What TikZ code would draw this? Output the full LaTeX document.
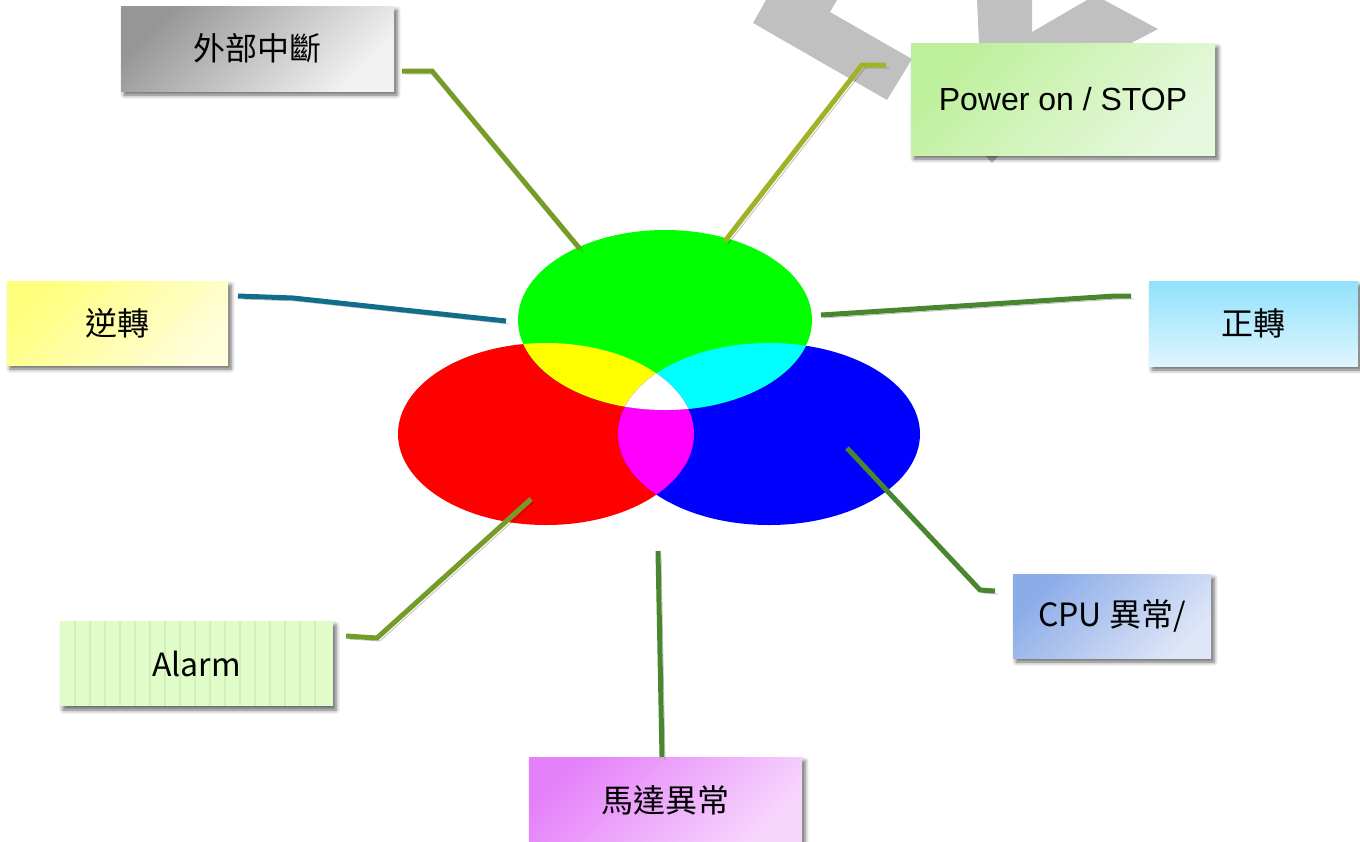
\documentclass[tikz,border=0pt]{standalone}
\usepackage{fontspec}
\newfontfamily\cjk{Noto Sans CJK TC}
\newfontfamily\arial{Liberation Sans}
\usetikzlibrary{shapes.geometric,shadows.blur,positioning}

\definecolor{extTL}{RGB}{150,150,150}
\definecolor{extBR}{RGB}{242,242,242}
\definecolor{pwrTL}{RGB}{190,240,155}
\definecolor{pwrBR}{RGB}{230,248,222}
\definecolor{revTL}{RGB}{255,255,125}
\definecolor{revBR}{RGB}{255,253,218}
\definecolor{fwdT}{RGB}{145,225,251}
\definecolor{fwdB}{RGB}{222,245,254}
\definecolor{cpuTL}{RGB}{140,172,232}
\definecolor{cpuBR}{RGB}{222,230,247}
\definecolor{motTL}{RGB}{228,128,249}
\definecolor{motBR}{RGB}{247,214,252}
\definecolor{almFill}{RGB}{224,252,200}
\definecolor{almStripe}{RGB}{210,240,186}
\definecolor{arrowgray}{RGB}{192,192,192}
\definecolor{oliveA}{RGB}{118,156,40}
\definecolor{oliveB}{RGB}{162,178,40}
\definecolor{tealA}{RGB}{16,110,140}
\definecolor{greenA}{RGB}{72,135,48}
\definecolor{spotR}{RGB}{255,0,0}
\definecolor{spotG}{RGB}{0,255,0}
\definecolor{spotB}{RGB}{0,0,255}
\definecolor{spotY}{RGB}{255,255,0}
\definecolor{spotC}{RGB}{0,255,255}
\definecolor{spotM}{RGB}{255,0,255}

\begin{document}
\begin{tikzpicture}[x=0.5pt,y=-0.5pt,
  sticky/.style={inner sep=0pt, align=center, font=\cjk\fontsize{16}{19}\selectfont,
    blur shadow={shadow xshift=1.5pt, shadow yshift=-2pt, shadow blur radius=2pt, shadow opacity=60}},
  wire/.style={line width=2.5pt,
    preaction={draw=black, opacity=.25, transform canvas={shift={(1.5pt,-1.5pt)}}}}
]
\useasboundingbox (0,0) rectangle (1360,841);
\clip (0,0) rectangle (1360,841);

% grey arrows behind the power box
\fill[arrowgray] (753,23) -- (766,0) -- (837,0) -- (830,12) -- (912,59) -- (887,100) -- cycle;
\fill[arrowgray] (977,0) -- (1032,0) -- (1032,32) -- (1087,0) -- (1104,0) -- (1158,29)
  -- (1118,50) -- (1000,154) -- (992,163) -- (984,154) -- cycle;

% three colour spots
\fill[spotR] (546,434) ellipse [x radius=148, y radius=91];
\fill[spotB] (769,434) ellipse [x radius=151, y radius=91];
\fill[spotG] (665,320) ellipse [x radius=147, y radius=90];
\begin{scope}
  \clip (546,434) ellipse [x radius=148, y radius=91];
  \fill[spotY] (665,320) ellipse [x radius=147, y radius=90];
\end{scope}
\begin{scope}
  \clip (769,434) ellipse [x radius=151, y radius=91];
  \fill[spotC] (665,320) ellipse [x radius=147, y radius=90];
\end{scope}
\begin{scope}
  \clip (546,434) ellipse [x radius=148, y radius=91];
  \fill[spotM] (769,434) ellipse [x radius=151, y radius=91];
\end{scope}
\begin{scope}
  \clip (546,434) ellipse [x radius=148, y radius=91];
  \clip (769,434) ellipse [x radius=151, y radius=91];
  \fill[white] (665,320) ellipse [x radius=147, y radius=90];
\end{scope}

% labels
\node[sticky, minimum width=136.5pt, minimum height=42.5pt,
  top color=extTL, bottom color=extBR, shading angle=45] (ext) at (257.5,48.5) {外部中斷};
\node[sticky, minimum width=152pt, minimum height=56pt, font=\arial\fontsize{16}{19}\selectfont,
  top color=pwrTL, bottom color=pwrBR, shading angle=45] (pwr) at (1063,99) {Power on / STOP};
\node[sticky, minimum width=110.5pt, minimum height=42pt,
  top color=revTL, bottom color=revBR, shading angle=45] (rev) at (117.5,323) {逆轉};
\node[sticky, minimum width=104.5pt, minimum height=42.5pt,
  top color=fwdT, bottom color=fwdB] (fwd) at (1253.5,323.5) {正轉};
\node[sticky, minimum width=136.5pt, minimum height=42.5pt, fill=almFill,
  path picture={\foreach \k in {1,...,17}
    \draw[almStripe, line width=1.2pt]
      ([xshift=\k*7.5pt]path picture bounding box.south west) --
      ([xshift=\k*7.5pt]path picture bounding box.north west);}] (alm) at (196.5,663.5) {};
\node[font=\cjk\fontsize{16}{19}\selectfont] at (alm) {Alarm};
\node[sticky, minimum width=99pt, minimum height=42pt,
  top color=cpuTL, bottom color=cpuBR, shading angle=45] (cpu) at (1112,616) {CPU 異常/};
\node[sticky, minimum width=136.5pt, minimum height=43pt,
  top color=motTL, bottom color=motBR, shading angle=45] (mot) at (665.5,800) {馬達異常};

% connector points
\coordinate (extA) at (402,71);  \coordinate (extB) at (432,71);  \coordinate (extC) at (580,249);
\coordinate (pwrA) at (886,65);  \coordinate (pwrB) at (862,65);  \coordinate (pwrC) at (725,241);
\coordinate (revA) at (238,296); \coordinate (revB) at (293,298); \coordinate (revC) at (506,321);
\coordinate (fwdA) at (1131,296);\coordinate (fwdB) at (1115,296);\coordinate (fwdC) at (821,315);
\coordinate (almA) at (346,636); \coordinate (almB) at (377,638); \coordinate (almC) at (531,499);
\coordinate (cpuA) at (995,591); \coordinate (cpuB) at (980,590); \coordinate (cpuC) at (847,448);
\coordinate (motA) at (662,757); \coordinate (motC) at (658,551);

\draw[wire, oliveA] (extA) -- (extB) -- (extC);
\draw[wire, oliveB] (pwrA) -- (pwrB) -- (pwrC);
\draw[wire, tealA] (revA) -- (revB) -- (revC);
\draw[wire, greenA] (fwdA) -- (fwdB) -- (fwdC);
\draw[wire, oliveA] (almA) -- (almB) -- (almC);
\draw[wire, greenA] (cpuA) -- (cpuB) -- (cpuC);
\draw[wire, greenA] (motA) -- (motC);
\end{tikzpicture}
\end{document}
